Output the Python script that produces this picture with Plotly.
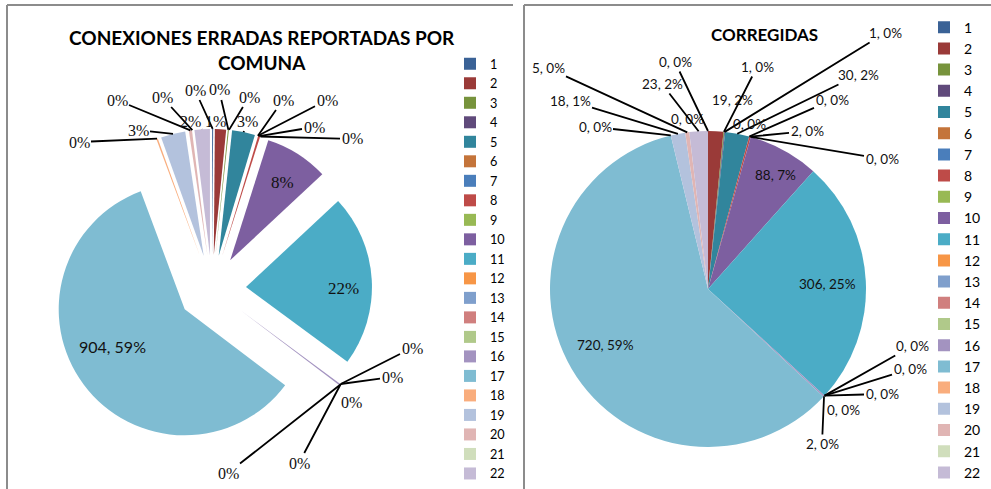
import numpy as np
import plotly.graph_objects as go

# ---------------- data ----------------
comunas = ["1", "2", "3", "4", "5", "6", "7", "8", "9", "10", "11",
           "12", "13", "14", "15", "16", "17", "18", "19", "20", "21", "22"]
reportadas = [2, 22, 2, 0, 45, 0, 0, 4, 0, 125, 338,
              0, 0, 0, 0, 3, 904, 3, 48, 6, 0, 30]
corregidas = [0, 19, 1, 1, 30, 0, 0, 2, 0, 88, 306,
              0, 0, 0, 0, 2, 720, 0, 18, 5, 0, 23]
titulo_izq = "CONEXIONES ERRADAS REPORTADAS POR<br>COMUNA"
titulo_der = "CORREGIDAS"

# ---------------- styles / layout ----------------
colores = ["#3A6296", "#9A3A38", "#77933C", "#604A7B", "#31859C", "#C4743A",
           "#4A7EBB", "#BE4B48", "#98B954", "#7D5FA0", "#4BACC6", "#F79646",
           "#7F9FCC", "#D07F7E", "#B0C98A", "#A393C0", "#7FBCD2", "#F9AD7D",
           "#B3C2DD", "#E0B5B4", "#D0DEBC", "#C5BBD6"]

W, H = 991, 489
L_CX, L_CY, L_R, L_PULL = 212, 289, 126, 0.27
R_CX, R_CY, R_R = 708, 289, 158

con_valor_izq = {17}

# label placement (pixel centre, draw leader)
etq_izq = {18: (79, 142, True), 19: (138, 130, True), 20: (117, 100, True),
           21: (162, 97, True), 22: (190, 121, True), 1: (195, 90, True),
           2: (215, 121, True), 3: (219, 90, True), 4: (249, 97, True),
           5: (247, 121, True), 6: (283, 100, True), 7: (327, 100, True),
           8: (314, 127, True), 9: (352, 139, True), 10: (282, 182, False),
           11: (343, 288, False), 12: (412, 348, True), 13: (392, 377, True),
           14: (351, 402, False), 15: (299, 463, True), 16: (228, 473, True),
           17: (112, 346, False)}
etq_der = {18: (595, 127, True), 19: (570, 101, True), 20: (548, 68, True),
           21: (687, 119, False), 22: (662, 84, True), 1: (675, 62, True),
           2: (732, 100, False), 3: (757, 67, True), 4: (885, 33, True),
           5: (858, 75, True), 6: (832, 100, True), 7: (749, 124, False),
           8: (807, 131, True), 9: (882, 159, True), 10: (775, 175, False),
           11: (827, 284, False), 12: (912, 346, True), 13: (910, 369, True),
           14: (882, 394, True), 15: (843, 410, False), 16: (822, 444, True),
           17: (605, 345, False)}
grandes = {10, 11, 17}


def dominio(cx, cy, half):
    return dict(x=[(cx - half) / W, (cx + half) / W],
                y=[1 - (cy + half) / H, 1 - (cy - half) / H])


def anclas(vals, cx, cy, rad):
    v = np.array(vals, dtype=float)
    tot = v.sum()
    cum = np.concatenate([[0], np.cumsum(v)[:-1]])
    mid = 2 * np.pi * (cum + v / 2) / tot
    return cx + rad * np.sin(mid), cy - rad * np.cos(mid)


def pct(v, tot):
    return f"{int(round(100 * v / tot))}%"


fig = go.Figure()

fig.add_trace(go.Pie(
    labels=comunas, values=reportadas, sort=False, direction="clockwise",
    rotation=0, pull=[L_PULL] * len(comunas),
    marker=dict(colors=colores, line=dict(width=0)),
    textinfo="none",
    domain=dominio(L_CX, L_CY, L_R * (1 + L_PULL)),
    legend="legend", legendgroup="izq",
    hoverinfo="label+value+percent", name="reportadas"))

fig.add_trace(go.Pie(
    labels=comunas, values=corregidas, sort=False, direction="clockwise",
    rotation=0,
    marker=dict(colors=colores, line=dict(width=0)),
    textinfo="none",
    domain=dominio(R_CX, R_CY, R_R),
    legend="legend2", legendgroup="der",
    hoverinfo="label+value+percent", name="corregidas"))

annotations = []


def add_label(txt, ax_px, ay_px, lx, ly, flecha, font):
    if flecha:
        annotations.append(dict(x=ax_px / W, y=1 - ay_px / H, xref="paper", yref="paper",
                                text=txt, showarrow=True, arrowhead=0, arrowwidth=1.8,
                                arrowcolor="#000000", ax=lx - ax_px, ay=ly - ay_px,
                                standoff=0, font=font))
    else:
        annotations.append(dict(x=lx / W, y=1 - ly / H, xref="paper", yref="paper",
                                xanchor="center", yanchor="middle",
                                text=txt, showarrow=False, font=font))


# labels left
ax_l, ay_l = anclas(reportadas, L_CX, L_CY, L_R * (1 + L_PULL))
tot_l = sum(reportadas)
for n, (lx, ly, flecha) in etq_izq.items():
    i = n - 1
    if n in con_valor_izq:
        txt = f"{reportadas[i]}, {pct(reportadas[i], tot_l)}"
        font = dict(family="Lato", size=16, color="#111111")
    else:
        txt = pct(reportadas[i], tot_l)
        font = dict(family="Liberation Serif", size=17 if n in grandes else 16, color="#111111")
    add_label(txt, ax_l[i], ay_l[i], lx, ly, flecha, font)

# labels right
ax_r, ay_r = anclas(corregidas, R_CX, R_CY, R_R)
tot_r = sum(corregidas)
for n, (lx, ly, flecha) in etq_der.items():
    i = n - 1
    txt = f"{corregidas[i]}, {pct(corregidas[i], tot_r)}"
    font = dict(family="Lato", size=13.5, color="#111111")
    add_label(txt, ax_r[i], ay_r[i], lx, ly, flecha, font)

# titles
annotations.append(dict(x=262 / W, y=1 - 50 / H, xref="paper", yref="paper",
                        text=titulo_izq, showarrow=False, xanchor="center", yanchor="middle",
                        font=dict(family="Lato", size=19, color="#000000", weight="bold")))
annotations.append(dict(x=764 / W, y=1 - 35 / H, xref="paper", yref="paper",
                        text=titulo_der, showarrow=False, xanchor="center", yanchor="middle",
                        font=dict(family="Lato", size=17, color="#000000", weight="bold")))

# chart frames
frame = dict(color="#8C8C8C", width=2)
shapes = [
    dict(type="line", xref="paper", yref="paper", x0=7 / W, x1=513 / W, y0=1 - 5 / H, y1=1 - 5 / H, line=frame),
    dict(type="line", xref="paper", yref="paper", x0=7 / W, x1=7 / W, y0=1 - 5 / H, y1=0, line=frame),
    dict(type="line", xref="paper", yref="paper", x0=524 / W, x1=1, y0=1 - 5 / H, y1=1 - 5 / H, line=frame),
    dict(type="line", xref="paper", yref="paper", x0=524 / W, x1=524 / W, y0=1 - 5 / H, y1=0, line=frame),
]

fig.update_layout(
    width=W, height=H, margin=dict(l=0, r=0, t=0, b=0),
    paper_bgcolor="white", plot_bgcolor="white",
    annotations=annotations, shapes=shapes,
    legend=dict(x=450 / W, y=1 - 49 / H, xanchor="left", yanchor="top",
                font=dict(family="Lato", size=12.7, color="#000000"),
                bgcolor="rgba(0,0,0,0)", traceorder="normal"),
    legend2=dict(x=924 / W, y=1 - 11.6 / H, xanchor="left", yanchor="top",
                 font=dict(family="Lato", size=14, color="#000000"),
                 bgcolor="rgba(0,0,0,0)", traceorder="normal"),
    showlegend=True,
)

fig.write_html("out.html", config={"displayModeBar": False},
               post_script="document.body.style.margin='0px';")
